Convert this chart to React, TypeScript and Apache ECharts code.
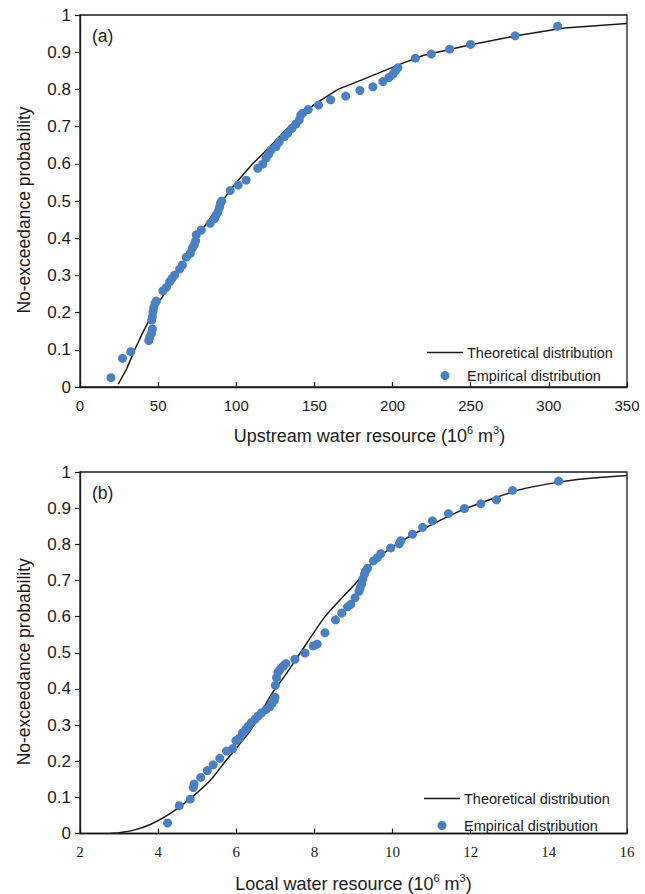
import React, { useEffect, useRef } from "react";
import * as echarts from "echarts";

// ---- Panel (a): upstream water resource ----
const upstreamWater = [19.8, 27.2, 32.5, 44.0, 44.6, 45.7, 46.3, 45.9, 46.3, 46.7, 47.2, 48.0, 48.9, 53.1, 55.3, 57.4, 58.9, 60.6, 63.8, 65.5, 68.0, 70.6, 71.8, 73.1, 74.0, 74.4, 77.6, 83.3, 86.1, 87.1, 88.2, 89.3, 89.9, 90.7, 96.1, 101.2, 106.3, 113.7, 116.9, 119.0, 120.7, 122.2, 125.4, 127.5, 130.7, 132.8, 135.6, 138.1, 140.3, 141.3, 142.4, 146.0, 152.6, 160.4, 170.0, 179.1, 187.4, 193.8, 197.6, 200.2, 201.9, 203.4, 214.6, 224.8, 236.5, 249.9, 278.4, 305.6];
const upstreamProb = [0.025, 0.077, 0.095, 0.125, 0.134, 0.144, 0.156, 0.18, 0.189, 0.202, 0.214, 0.225, 0.231, 0.259, 0.268, 0.283, 0.292, 0.301, 0.317, 0.328, 0.349, 0.359, 0.373, 0.382, 0.393, 0.409, 0.422, 0.44, 0.452, 0.462, 0.471, 0.483, 0.494, 0.5, 0.528, 0.543, 0.556, 0.588, 0.599, 0.615, 0.626, 0.637, 0.646, 0.659, 0.673, 0.682, 0.695, 0.707, 0.718, 0.731, 0.736, 0.746, 0.758, 0.772, 0.782, 0.797, 0.807, 0.821, 0.832, 0.841, 0.85, 0.858, 0.884, 0.895, 0.908, 0.921, 0.944, 0.97];
const upstreamCurveX = [24.5, 30, 35, 40, 46.7, 50, 61.6, 74.4, 91, 100, 110.5, 120, 133.9, 150, 165, 180, 205, 220, 250, 280, 310, 350];
const upstreamCurveP = [0.008, 0.05, 0.1, 0.145, 0.2, 0.225, 0.3, 0.4, 0.5, 0.55, 0.6, 0.64, 0.7, 0.76, 0.8, 0.825, 0.868, 0.892, 0.92, 0.945, 0.965, 0.977];

// ---- Panel (b): local water resource ----
const localWater = [4.24, 4.54, 4.82, 4.9, 4.92, 5.09, 5.26, 5.41, 5.58, 5.75, 5.91, 5.99, 6.08, 6.16, 6.25, 6.31, 6.39, 6.48, 6.56, 6.65, 6.76, 6.85, 6.91, 6.97, 6.99, 7.0, 7.03, 7.07, 7.12, 7.2, 7.27, 7.5, 7.76, 7.97, 8.07, 8.27, 8.54, 8.7, 8.85, 8.93, 9.04, 9.14, 9.17, 9.21, 9.24, 9.28, 9.31, 9.36, 9.51, 9.61, 9.7, 9.95, 10.17, 10.21, 10.51, 10.77, 11.02, 11.43, 11.84, 12.26, 12.66, 13.07, 14.25];
const localProb = [0.029, 0.077, 0.095, 0.127, 0.137, 0.155, 0.174, 0.19, 0.208, 0.228, 0.235, 0.257, 0.264, 0.279, 0.289, 0.298, 0.307, 0.316, 0.325, 0.334, 0.343, 0.35, 0.359, 0.368, 0.377, 0.41, 0.431, 0.446, 0.454, 0.463, 0.47, 0.482, 0.499, 0.519, 0.524, 0.555, 0.591, 0.61, 0.627, 0.634, 0.652, 0.67, 0.679, 0.691, 0.705, 0.717, 0.726, 0.734, 0.754, 0.763, 0.774, 0.79, 0.801, 0.81, 0.828, 0.847, 0.865, 0.885, 0.899, 0.912, 0.923, 0.949, 0.975];
const localCurveX = [2.77, 3.0, 3.4, 3.8, 4.2, 4.6, 5.0, 5.4, 5.67, 6.35, 6.9, 7.3, 7.64, 8.27, 9.12, 9.48, 10.1, 10.92, 11.9, 13.22, 14.25, 15, 16];
const localCurveP = [0, 0.002, 0.01, 0.025, 0.048, 0.078, 0.113, 0.155, 0.193, 0.283, 0.385, 0.445, 0.5, 0.6, 0.7, 0.75, 0.8, 0.85, 0.9, 0.95, 0.972, 0.982, 0.99];

const THEO = "Theoretical distribution";
const EMP = "Empirical distribution";
const panelLabels = ["(a)", "(b)"];
const yTitle = "No-exceedance probability";

const SANS = "'Liberation Sans', Arial, sans-serif";
const SERIF = "'Liberation Serif', 'Times New Roman', serif";
const DOT = "#4a7fc2";
const INK = "#1a1a1a";

const pairs = (xs: number[], ys: number[]) => xs.map((x, i) => [x, ys[i]]);

const titleRich = {
  t: { fontSize: 18, fontFamily: SANS, color: INK },
  s: { fontSize: 11, fontFamily: SANS, color: INK, padding: [0, 0, 12, 0] },
};

export default function App() {
  const ref = useRef<HTMLDivElement>(null);
  useEffect(() => {
    if (!ref.current) return;
    const chart = echarts.init(ref.current, null, { renderer: "svg" });

    const yAxisBase = (gridIndex: number) => ({
      type: "value",
      gridIndex,
      min: 0,
      max: 1,
      interval: 0.1,
      axisLine: { show: true, lineStyle: { color: INK, width: 1.3 } },
      axisTick: { show: true, inside: false, length: 5, lineStyle: { color: INK, width: 1.2 } },
      splitLine: { show: false },
      axisLabel: { fontSize: 17, fontFamily: SANS, color: INK, margin: 9 },
      name: yTitle,
      nameLocation: "middle",
      nameGap: 47,
      nameTextStyle: { fontSize: 17.5, fontFamily: SANS, color: INK, padding: [0, 18, 0, 0] },
    });

    const legendBase = (left: number, top: number, gap: number) => ({
      orient: "vertical",
      left,
      top,
      itemWidth: 36,
      itemHeight: 9,
      itemGap: gap,
      selectedMode: false,
      symbolKeepAspect: true,
      textStyle: { fontSize: 14.5, fontFamily: SANS, color: INK, padding: [0, 0, 0, -1] },
      data: [
        { name: THEO, icon: "path://M0,0 L36,0 L36,1.6 L0,1.6 Z", itemStyle: { color: INK } },
        { name: EMP, icon: "circle" },
      ],
    });

    chart.setOption({
      animation: false,
      backgroundColor: "#fff",
      grid: [
        { left: 80, top: 15, width: 547, height: 372, show: true, borderColor: INK, borderWidth: 1.3 },
        { left: 80, top: 472, width: 547, height: 369, show: true, borderColor: INK, borderWidth: 1.3 },
      ],
      xAxis: [
        {
          type: "value",
          gridIndex: 0,
          min: 0,
          max: 350,
          interval: 50,
          axisLine: { show: true, onZero: false, lineStyle: { color: INK, width: 1.3 } },
          axisTick: { show: true, inside: true, length: 5, lineStyle: { color: INK, width: 1.2 } },
          splitLine: { show: false },
          axisLabel: { fontSize: 15, fontFamily: SANS, color: INK, margin: 11 },
          name: "{t|Upstream water resource (10}{s|6}{t| m}{s|3}{t|)}",
          nameLocation: "middle",
          nameGap: 37,
          nameTextStyle: { rich: titleRich, padding: [0, 0, 0, 32] },
        },
        {
          type: "value",
          gridIndex: 1,
          min: 2,
          max: 16,
          interval: 2,
          axisLine: { show: true, onZero: false, lineStyle: { color: INK, width: 1.3 } },
          axisTick: { show: true, inside: true, length: 5, lineStyle: { color: INK, width: 1.2 } },
          splitLine: { show: false },
          axisLabel: { fontSize: 15, fontFamily: SERIF, color: INK, margin: 11 },
          name: "{t|Local water resource (10}{s|6}{t| m}{s|3}{t|)}",
          nameLocation: "middle",
          nameGap: 39,
          nameTextStyle: { rich: titleRich },
        },
      ],
      yAxis: [yAxisBase(0), yAxisBase(1)],
      legend: [legendBase(422, 340, 8), legendBase(419, 786, 12)],
      graphic: [
        { type: "text", left: 92, top: 27, style: { text: panelLabels[0], fontSize: 17.5, fontFamily: SANS, fill: INK } },
        { type: "text", left: 92, top: 484, style: { text: panelLabels[1], fontSize: 17.5, fontFamily: SANS, fill: INK } },
      ],
      series: [
        {
          name: THEO,
          type: "line",
          xAxisIndex: 0,
          yAxisIndex: 0,
          data: pairs(upstreamCurveX, upstreamCurveP),
          symbol: "none",
          lineStyle: { color: INK, width: 1.5 },
          itemStyle: { color: INK },
          z: 2,
        },
        {
          name: EMP,
          type: "scatter",
          xAxisIndex: 0,
          yAxisIndex: 0,
          data: pairs(upstreamWater, upstreamProb),
          symbolSize: 9,
          itemStyle: { color: DOT, opacity: 1 },
          z: 3,
        },
        {
          name: THEO,
          type: "line",
          xAxisIndex: 1,
          yAxisIndex: 1,
          data: pairs(localCurveX, localCurveP),
          symbol: "none",
          smooth: 0.2,
          lineStyle: { color: INK, width: 1.5 },
          itemStyle: { color: INK },
          z: 2,
        },
        {
          name: EMP,
          type: "scatter",
          xAxisIndex: 1,
          yAxisIndex: 1,
          data: pairs(localWater, localProb),
          symbolSize: 9,
          itemStyle: { color: DOT, opacity: 1 },
          z: 3,
        },
      ],
    });

    return () => chart.dispose();
  }, []);

  return (
    <div
      ref={ref}
      style={{ position: "fixed", left: 0, top: 0, width: 645, height: 894, background: "#fff" }}
    />
  );
}
